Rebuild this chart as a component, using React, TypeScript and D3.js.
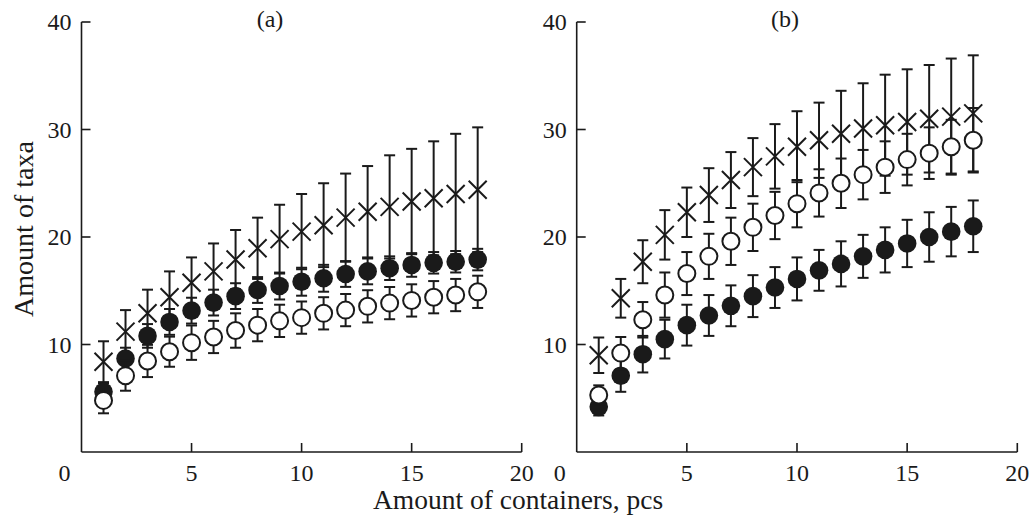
import React from "react";
import * as d3 from "d3";

// amount of containers (x)
const containers = [1, 2, 3, 4, 5, 6, 7, 8, 9, 10, 11, 12, 13, 14, 15, 16, 17, 18];

// panel (a)
const crossA = [8.4, 11.2, 12.9, 14.4, 15.75, 16.8, 17.9, 18.95, 19.8, 20.5, 21.1, 21.8, 22.35, 22.8, 23.3, 23.6, 24.0, 24.4];
const crossAErr = [1.9, 2.0, 2.2, 2.4, 2.35, 2.6, 2.75, 2.85, 3.2, 3.5, 3.9, 4.1, 4.25, 4.8, 4.9, 5.3, 5.6, 5.8];
const filledA = [5.6, 8.7, 10.8, 12.1, 13.15, 13.9, 14.5, 15.07, 15.44, 15.84, 16.16, 16.56, 16.8, 17.1, 17.4, 17.6, 17.7, 17.9];
const filledAErr = [0.8, 1.0, 1.1, 1.2, 1.2, 1.2, 1.2, 1.2, 1.25, 1.3, 1.25, 1.2, 1.2, 1.1, 1.1, 1.0, 1.0, 1.0];
const openA = [4.8, 7.1, 8.47, 9.33, 10.17, 10.7, 11.3, 11.8, 12.2, 12.5, 12.9, 13.2, 13.55, 13.85, 14.1, 14.4, 14.6, 14.9];
const openAErr = [1.2, 1.4, 1.5, 1.4, 1.6, 1.5, 1.6, 1.5, 1.5, 1.5, 1.5, 1.5, 1.5, 1.5, 1.5, 1.5, 1.5, 1.5];

// panel (b)
const crossB = [9.0, 14.3, 17.7, 20.2, 22.3, 23.9, 25.3, 26.5, 27.5, 28.4, 29.0, 29.6, 30.1, 30.4, 30.7, 31.0, 31.2, 31.5];
const crossBErr = [1.65, 1.8, 2.0, 2.3, 2.3, 2.5, 2.6, 2.7, 3.0, 3.3, 3.5, 4.0, 4.2, 4.7, 4.9, 5.0, 5.4, 5.4];
const openB = [5.3, 9.2, 12.3, 14.6, 16.6, 18.2, 19.6, 20.9, 22.0, 23.1, 24.1, 25.0, 25.8, 26.5, 27.2, 27.8, 28.4, 29.0];
const openBErr = [0.9, 1.5, 1.65, 2.1, 2.0, 2.1, 2.2, 2.2, 2.2, 2.2, 2.2, 2.3, 2.3, 2.4, 2.4, 2.4, 2.5, 3.0];
const filledB = [4.2, 7.1, 9.1, 10.5, 11.8, 12.7, 13.6, 14.5, 15.3, 16.1, 16.9, 17.5, 18.2, 18.8, 19.4, 20.0, 20.5, 21.0];
const filledBErr = [0.8, 1.5, 1.7, 1.8, 1.9, 1.9, 1.9, 1.95, 1.9, 2.0, 1.9, 2.1, 2.0, 2.1, 2.2, 2.3, 2.3, 2.4];

const xTicks = [0, 5, 10, 15, 20];
const yTicks = [10, 20, 30, 40];

const INK = "#1a1a1a";
const FONT = "'Liberation Serif', 'DejaVu Serif', serif";

type Series = { kind: "cross" | "filled" | "open"; values: number[]; err: number[] };

const Panel = ({ left, right, label, labelX, series }: { left: number; right: number; label: string; labelX: number; series: Series[] }) => {
  const x = d3.scaleLinear().domain([0, 20]).range([left, right]);
  const y = d3.scaleLinear().domain([0, 40]).range([452, 22]);
  const r = 8.5;
  const cap = 5.5;
  const cs = 9;

  return (
    <g>
      {/* axes */}
      <line x1={x(0)} x2={x(0)} y1={y(40)} y2={y(0)} stroke={INK} strokeWidth={1.6} />
      <line x1={x(0)} x2={x(20)} y1={y(0)} y2={y(0)} stroke={INK} strokeWidth={1.6} />
      {yTicks.map((t) => (
        <g key={"y" + t}>
          <line x1={x(0)} x2={x(0) + 9} y1={y(t)} y2={y(t)} stroke={INK} strokeWidth={1.6} />
          <text x={x(0) - 10} y={y(t)} textAnchor="end" dominantBaseline="central" fontSize={24} fontFamily={FONT} fill={INK}>
            {t}
          </text>
        </g>
      ))}
      {xTicks.map((t) => (
        <g key={"x" + t}>
          {t > 0 && <line x1={x(t)} x2={x(t)} y1={y(0)} y2={y(0) - 9} stroke={INK} strokeWidth={1.6} />}
          <text x={x(t) - (t === 0 ? 17 : 0)} y={481} textAnchor="middle" fontSize={24} fontFamily={FONT} fill={INK}>
            {t}
          </text>
        </g>
      ))}
      <text x={labelX} y={27} textAnchor="middle" fontSize={24} fontFamily={FONT} fill={INK}>
        {label}
      </text>

      {series.map((s, si) => (
        <g key={si}>
          {containers.map((c, i) => {
            const cx = x(c);
            const cy = y(s.values[i]);
            const yt = y(s.values[i] + s.err[i]);
            const yb = y(s.values[i] - s.err[i]);
            return (
              <g key={i} stroke={INK} strokeWidth={2}>
                <line x1={cx} x2={cx} y1={yt} y2={yb} />
                <line x1={cx - cap} x2={cx + cap} y1={yt} y2={yt} />
                <line x1={cx - cap} x2={cx + cap} y1={yb} y2={yb} />
                {s.kind === "cross" && (
                  <path d={`M${cx - cs},${cy - cs}L${cx + cs},${cy + cs}M${cx - cs},${cy + cs}L${cx + cs},${cy - cs}`} fill="none" />
                )}
                {s.kind === "filled" && <circle cx={cx} cy={cy} r={r + 0.8} fill={INK} stroke="none" />}
                {s.kind === "open" && <circle cx={cx} cy={cy} r={r} fill="#fff" />}
              </g>
            );
          })}
        </g>
      ))}
    </g>
  );
};

export default function App() {
  return (
    <svg width={1031} height={519} style={{ position: "absolute", left: 0, top: 0, background: "#fff" }}>
      <Panel
        left={81.5}
        right={521.7}
        label="(a)"
        labelX={270}
        series={[
          { kind: "cross", values: crossA, err: crossAErr },
          { kind: "filled", values: filledA, err: filledAErr },
          { kind: "open", values: openA, err: openAErr },
        ]}
      />
      <Panel
        left={576.7}
        right={1017.3}
        label="(b)"
        labelX={785}
        series={[
          { kind: "cross", values: crossB, err: crossBErr },
          { kind: "filled", values: filledB, err: filledBErr },
          { kind: "open", values: openB, err: openBErr },
        ]}
      />
      <text transform="translate(23,229) rotate(-90)" textAnchor="middle" dominantBaseline="central" fontSize={28} fontFamily={FONT} fill={INK}>
        Amount of taxa
      </text>
      <text x={518} y={509} textAnchor="middle" fontSize={27.5} fontFamily={FONT} fill={INK}>
        Amount of containers, pcs
      </text>
    </svg>
  );
}
